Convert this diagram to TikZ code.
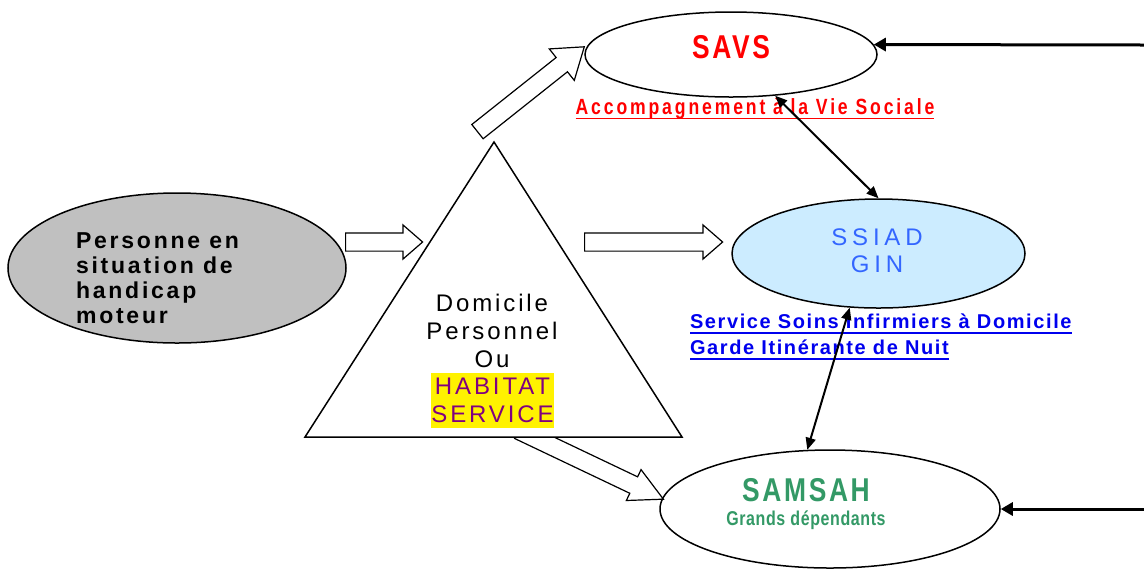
\documentclass[tikz,border=0pt]{standalone}
\usepackage{fontspec}
\setmainfont{Liberation Sans}
\newfontfamily\spacedfont{Liberation Sans}[LetterSpace=12]
\newfontfamily\narrowfont{Liberation Sans}[FakeStretch=0.8,LetterSpace=8]
\usetikzlibrary{shapes.geometric,shapes.arrows,arrows.meta,calc}

\definecolor{greyfill}{RGB}{192,192,192}
\definecolor{ssiadfill}{RGB}{204,236,255}
\definecolor{savsred}{RGB}{255,0,0}
\definecolor{ssiadblue}{RGB}{51,102,255}
\definecolor{linkblue}{RGB}{0,0,238}
\definecolor{samgreen}{RGB}{51,153,102}
\definecolor{habpurple}{RGB}{128,0,128}

\newcommand\ulbox[1]{\leavevmode\setbox0=\hbox{#1}\rlap{\raisebox{-2.4pt}{\rule{\wd0}{0.8pt}}}\box0}

\tikzset{
  bubble/.style={draw, ellipse, line width=0.75pt, inner sep=0pt},
  blockarr/.style={draw, fill=white, single arrow, line width=0.6pt, inner xsep=0pt, inner ysep=4.25pt,
    text height=0pt, text depth=0pt, single arrow head extend=4pt, single arrow tip angle=82},
  thinarr/.style={line width=1pt, {Triangle[length=6pt,width=5pt]}-{Triangle[length=6pt,width=5pt]}},
  inarr/.style={line width=1.5pt, -{Triangle[length=6pt,width=6.5pt]}}
}

% open arrow between two points
\newcommand\blockarrow[4][]{%
  \path let \p1=(#2), \p2=(#3), \n1={atan2(\y2-\y1,\x2-\x1)}, \n2={veclen(\x2-\x1,\y2-\y1)} in
    node[blockarr, #1, minimum height=\n2, rotate=\n1, anchor=tail] (#4) at (#2) {};}

\begin{document}
\begin{tikzpicture}[x=0.5pt,y=-0.5pt]
    \useasboundingbox (0,0) rectangle (1144,569);
    % ellipses
    \node[bubble, fill=greyfill, minimum width=169pt, minimum height=75pt] (person) at (177,268) {};
    \node[bubble, minimum width=146pt, minimum height=42.5pt] (savs) at (731,54.5) {};
    \node[bubble, fill=ssiadfill, minimum width=146.5pt, minimum height=54.5pt] (ssiad) at (878.5,253.5) {};
    \node[bubble, minimum width=170pt, minimum height=59pt] (samsah) at (830,509) {};

    % open arrows
    \coordinate (a1s) at (345,242);
    \coordinate (a1e) at (422,242);
    \coordinate (a2s) at (584,242);
    \coordinate (a2e) at (722,242);
    \coordinate (a3s) at (477,132);
    \coordinate (a3e) at (584,47);
    \coordinate (a4s) at (518,430);
    \coordinate (a4e) at (663,499);
    \blockarrow[single arrow tip angle=55]{a4s}{a4e}{tosamsah}

    % triangle
    \coordinate (apex) at (494,142);
    \coordinate (bl) at (305,437);
    \coordinate (br) at (682,437);
    \draw[fill=white, line width=0.75pt] (apex) -- (bl) -- (br) -- cycle;

    \blockarrow{a1s}{a1e}{todomicile}
    \blockarrow{a2s}{a2e}{tossiad}
    \blockarrow[single arrow head extend=5.5pt, single arrow tip angle=70]{a3s}{a3e}{tosavs}

    % texts
    \node[anchor=west, align=left, font=\spacedfont\bfseries\fontsize{11.5}{12.5}\selectfont] (personlbl) at (69,278) {Personne en\\situation de\\handicap\\moteur};
    \node[align=center, font=\spacedfont\fontsize{12}{14}\selectfont] (domicile) at (492,331) {Domicile\\Personnel\\Ou};
    \node[fill=yellow, text=habpurple, align=center, inner sep=0pt, minimum width=61.5pt, minimum height=27.5pt,
      font=\spacedfont\fontsize{12}{14}\selectfont] (habitat) at (492.5,400.5) {HABITAT\\SERVICE};
    \node[text=savsred, font=\narrowfont\bfseries\fontsize{16.5}{20}\selectfont] (savslbl) at (731,47) {SAVS};
    \node[text=savsred, font=\narrowfont\bfseries\addfontfeature{LetterSpace=13}\fontsize{11}{13}\selectfont] (savsdesc) at (755,109) {\ulbox{Accompagnement à la Vie Sociale}};
    \node[text=ssiadblue, align=center, font=\spacedfont\addfontfeature{LetterSpace=20}\fontsize{12}{13.5}\selectfont] (ssiadlbl) at (877,251) {SSIAD\\GIN};
    \node[anchor=west, text=linkblue, align=left, font=\spacedfont\bfseries\addfontfeature{LetterSpace=8}\fontsize{10}{13}\selectfont] (ssiaddesc) at (683,337) {\ulbox{Service Soins Infirmiers à Domicile}\\\ulbox{Garde Itinérante de Nuit}};
    \node[text=samgreen, font=\narrowfont\bfseries\fontsize{16.5}{20}\selectfont] (samsahlbl) at (806,490) {SAMSAH};
    \node[text=samgreen, font=\narrowfont\bfseries\addfontfeature{LetterSpace=3}\fontsize{10}{12}\selectfont] (grandslbl) at (806,520) {Grands dépendants};

    % links
    \coordinate (savsin) at (1144,45);
    \coordinate (samsahin) at (1144,509);
    \draw[thinarr] (savs.-43) -- (ssiad.north);
    \draw[thinarr] (ssiad.-118) -- (samsah.111);
    \draw[inarr] (savsin) -- (savs.4);
    \draw[inarr] (samsahin) -- (samsah.east);
\end{tikzpicture}
\end{document}
